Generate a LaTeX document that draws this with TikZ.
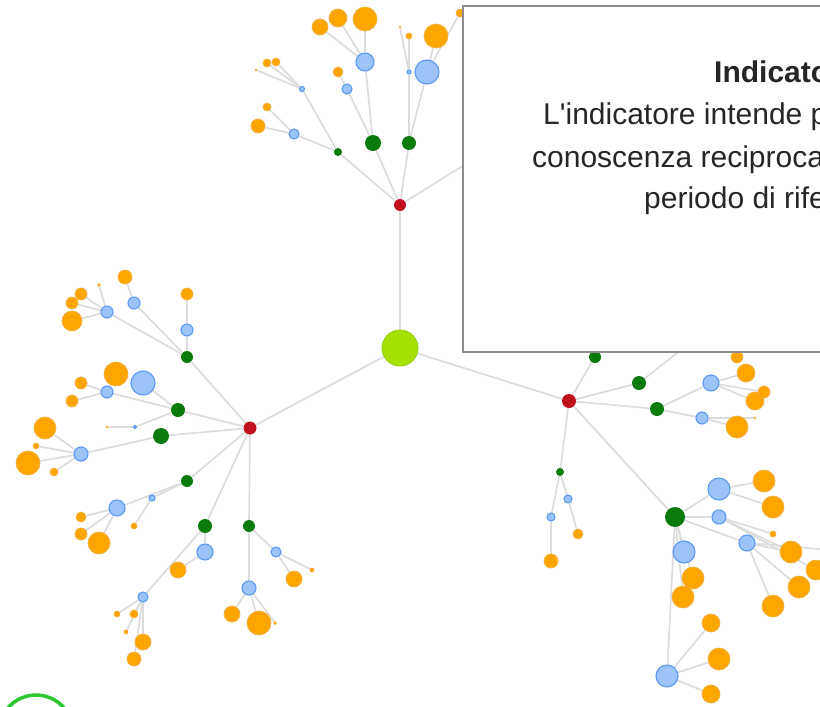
\documentclass[tikz,border=0pt]{standalone}
\usepackage{fontspec}
\setmainfont{Liberation Sans}[Ligatures=TeXOff]
\usetikzlibrary{backgrounds}
\definecolor{limec}{HTML}{A4E000}
\definecolor{limed}{HTML}{90CC00}
\definecolor{crim}{HTML}{C0101E}
\definecolor{dkg}{HTML}{0A7A0A}
\definecolor{lbl}{HTML}{9CC3FA}
\definecolor{mbl}{HTML}{5A9AF2}
\definecolor{org}{HTML}{FFA500}
\definecolor{orgb}{HTML}{F2B040}
\definecolor{edg}{HTML}{DCDCDC}
\definecolor{boxb}{HTML}{8C8C8C}
\definecolor{txt}{HTML}{262626}
\definecolor{ring}{HTML}{2EC62E}
\tikzset{
  edge/.style={draw=edg, line width=1.7pt},
  ctr/.style={circle, inner sep=0pt, minimum size=36pt, fill=limec, draw=limed, line width=0.8pt},
  rd/.style={circle, inner sep=0pt, minimum size=#1pt, fill=crim},
  gn/.style={circle, inner sep=0pt, minimum size=#1pt, fill=dkg},
  bl/.style={circle, inner sep=0pt, minimum size=#1pt, fill=lbl, draw=mbl, line width=1.1pt},
  og/.style={circle, inner sep=0pt, minimum size=#1pt, fill=org, draw=orgb, line width=0.7pt},
  tx/.style={anchor=base west, inner sep=0pt, text=txt, font=\fontsize{30}{36}\selectfont}
}
\begin{document}
\begin{tikzpicture}[x=1pt,y=-1pt]
\useasboundingbox (0,0) rectangle (820,707);
\clip (0,0) rectangle (820,707);
% centre and reds
\node[ctr] (c) at (400,348) {};
\node[rd=12] (rT) at (400,205) {};
\node[rd=13] (rL) at (250,428) {};
\node[rd=14] (rR) at (569,401) {};
% ---------------- top branch
\node[gn=8] (gT1) at (338,152) {};
\node[gn=16] (gT2) at (373,143) {};
\node[gn=14] (gT3) at (409,143) {};
\node[gn=14] (gT4) at (485,152) {};
\node[bl=5] (bT1) at (302,89) {};
\node[bl=10] (bT2) at (294,134) {};
\node[og=14] (oT1) at (258,126) {};
\node[og=8] (oT2) at (267,107) {};
\node[og=8] (oT3) at (267,63) {};
\node[og=8] (oT4) at (276,62) {};
\node[og=2] (oT5) at (256,70) {};
\node[bl=18] (bT3) at (365,62) {};
\node[og=16] (oT6) at (320,27) {};
\node[og=18] (oT7) at (338,18) {};
\node[og=24] (oT8) at (365,19) {};
\node[bl=10] (bT4) at (347,89) {};
\node[og=10] (oT9) at (338,72) {};
\node[bl=24] (bT5) at (427,72) {};
\node[og=24] (oT10) at (436,36) {};
\node[og=8] (oT11) at (460,13) {};
\node[bl=4] (bT6) at (409,72) {};
\node[og=6] (oT12) at (409,36) {};
\node[og=2] (oT13) at (400,27) {};
% ---------------- left branch
\node[gn=12] (gL1) at (187,357) {};
\node[gn=14] (gL2) at (178,410) {};
\node[gn=16] (gL3) at (161,436) {};
\node[gn=12] (gL4) at (187,481) {};
\node[gn=14] (gL5) at (205,526) {};
\node[gn=12] (gL6) at (249,526) {};
\node[bl=12] (bL1) at (187,330) {};
\node[og=12] (oL1) at (187,294) {};
\node[bl=12] (bL2) at (107,312) {};
\node[og=20] (oL2) at (72,321) {};
\node[og=12] (oL3) at (72,303) {};
\node[og=12] (oL3b) at (81,294) {};
\node[og=3] (oL3c) at (99,285) {};
\node[bl=12] (bL3) at (134,303) {};
\node[og=14] (oL4) at (125,277) {};
\node[bl=24] (bL4) at (143,383) {};
\node[bl=12] (bL5) at (107,392) {};
\node[og=24] (oL5) at (116,374) {};
\node[og=12] (oL6) at (81,383) {};
\node[og=12] (oL7) at (72,401) {};
\node[bl=3] (bL6) at (135,427) {};
\node[og=2] (oL8) at (107,427) {};
\node[bl=14] (bL7) at (81,454) {};
\node[og=22] (oL9) at (45,428) {};
\node[og=6] (oL10) at (36,446) {};
\node[og=24] (oL11) at (28,463) {};
\node[og=8] (oL12) at (54,472) {};
\node[bl=16] (bL8) at (117,508) {};
\node[og=10] (oL13) at (81,517) {};
\node[og=12] (oL14) at (81,534) {};
\node[og=22] (oL15) at (99,543) {};
\node[bl=6] (bL9) at (152,498) {};
\node[og=6] (oL16) at (134,526) {};
\node[bl=16] (bL10) at (205,552) {};
\node[og=16] (oL17) at (178,570) {};
\node[bl=10] (bL11) at (143,597) {};
\node[og=6] (oL18) at (117,614) {};
\node[og=8] (oL19) at (134,614) {};
\node[og=4] (oL20) at (126,632) {};
\node[og=16] (oL21) at (143,642) {};
\node[og=14] (oL22) at (134,659) {};
\node[bl=14] (bL12) at (249,588) {};
\node[og=16] (oL23) at (232,614) {};
\node[og=24] (oL24) at (259,623) {};
\node[og=3] (oL25) at (275,623) {};
\node[bl=10] (bL13) at (276,552) {};
\node[og=16] (oL26) at (294,579) {};
\node[og=4] (oL27) at (312,570) {};
% ---------------- right branch
\node[gn=12] (gR1) at (595,357) {};
\node[gn=14] (gR2) at (639,383) {};
\node[gn=14] (gR3) at (657,409) {};
\node[gn=20] (gR4) at (675,517) {};
\node[gn=8] (gR5) at (560,472) {};
\node[bl=12] (hR1) at (700,335) {};
\node[bl=16] (bR1) at (711,383) {};
\node[og=18] (oR1) at (746,373) {};
\node[og=18] (oR2) at (755,401) {};
\node[og=12] (oR3) at (764,392) {};
\node[og=12] (oR4) at (737,357) {};
\node[bl=12] (bR2) at (702,418) {};
\node[og=22] (oR5) at (737,427) {};
\node[og=2] (oR6) at (755,418) {};
\node[bl=8] (bR3) at (568,499) {};
\node[og=10] (oR7) at (578,534) {};
\node[bl=8] (bR4) at (551,517) {};
\node[og=14] (oR8) at (551,561) {};
\node[bl=22] (bR5) at (719,489) {};
\node[og=22] (oR9) at (764,481) {};
\node[og=22] (oR10) at (773,507) {};
\node[bl=14] (bR6) at (719,517) {};
\node[og=6] (oR11) at (773,534) {};
\node[og=22] (oR12) at (791,552) {};
\node[og=20] (oR13) at (816,570) {};
\node[bl=16] (bR7) at (747,543) {};
\node[og=22] (oR14) at (799,587) {};
\node[og=22] (oR15) at (773,606) {};
\node[bl=22] (bR8) at (684,552) {};
\node[og=22] (oR16) at (693,578) {};
\node[og=22] (oR17) at (683,597) {};
\node[bl=22] (bR9) at (667,676) {};
\node[og=18] (oR18) at (711,623) {};
\node[og=22] (oR19) at (719,659) {};
\node[og=18] (oR20) at (711,694) {};
\coordinate (rEdge) at (820,549);
% ring at bottom left
\node[circle, draw=ring, fill=white, line width=3.5pt, minimum size=74pt, inner sep=0pt] (ring) at (36,732) {};
% edges
\begin{scope}[on background layer]
\foreach \a/\b in {c/rT, c/rL, c/rR,
  rT/gT1, rT/gT2, rT/gT3, rT/gT4,
  gT1/bT1, gT1/bT2, bT2/oT1, bT2/oT2, bT1/oT3, bT1/oT4, bT1/oT5,
  gT2/bT3, gT2/bT4, bT3/oT6, bT3/oT7, bT3/oT8, bT4/oT9,
  gT3/bT5, gT3/bT6, bT5/oT10, bT5/oT11, bT6/oT12, bT6/oT13,
  rL/gL1, rL/gL2, rL/gL3, rL/gL4, rL/gL5, rL/gL6,
  gL1/bL1, bL1/oL1, gL1/bL2, bL2/oL2, bL2/oL3, bL2/oL3b, bL2/oL3c, gL1/bL3, bL3/oL4,
  gL2/bL4, gL2/bL5, bL5/oL5, bL5/oL6, bL5/oL7, gL2/bL6, bL6/oL8,
  gL3/bL7, bL7/oL9, bL7/oL10, bL7/oL11, bL7/oL12,
  gL4/bL8, bL8/oL13, bL8/oL14, bL8/oL15, gL4/bL9, bL9/oL16,
  gL5/bL10, bL10/oL17, gL5/bL11, bL11/oL18, bL11/oL19, bL11/oL20, bL11/oL21, bL11/oL22,
  gL6/bL12, bL12/oL23, bL12/oL24, bL12/oL25, gL6/bL13, bL13/oL26, bL13/oL27,
  rR/gR1, rR/gR2, rR/gR3, rR/gR4, rR/gR5, gR2/hR1,
  gR3/bR1, bR1/oR1, bR1/oR2, bR1/oR3, gR3/bR2, bR2/oR5, bR2/oR6,
  gR5/bR3, bR3/oR7, gR5/bR4, bR4/oR8,
  gR4/bR5, bR5/oR9, bR5/oR10, gR4/bR6, bR6/oR11, bR6/oR12, bR6/oR13,
  gR4/bR7, bR7/oR12, bR7/oR14, bR7/oR15, bR7/rEdge,
  gR4/bR8, gR4/oR16, gR4/oR17, gR4/bR9, bR9/oR18, bR9/oR19, bR9/oR20}
  \draw[edge] (\a) -- (\b);
\end{scope}
% tooltip box
\node[draw=boxb, fill=white, line width=2pt, minimum width=380pt, minimum height=346pt,
      anchor=north west, inner sep=0pt] (tip) at (462,5) {};
\node[tx, font=\fontsize{30}{36}\selectfont\bfseries] (t1) at (714,82) {Indicato};
\node[tx] (t2) at (543,124) {L'indicatore intende p};
\node[tx] (t3) at (532,167) {conoscenza reciproca};
\node[tx] (t4) at (644,208) {periodo di rife};
\end{tikzpicture}
\end{document}
